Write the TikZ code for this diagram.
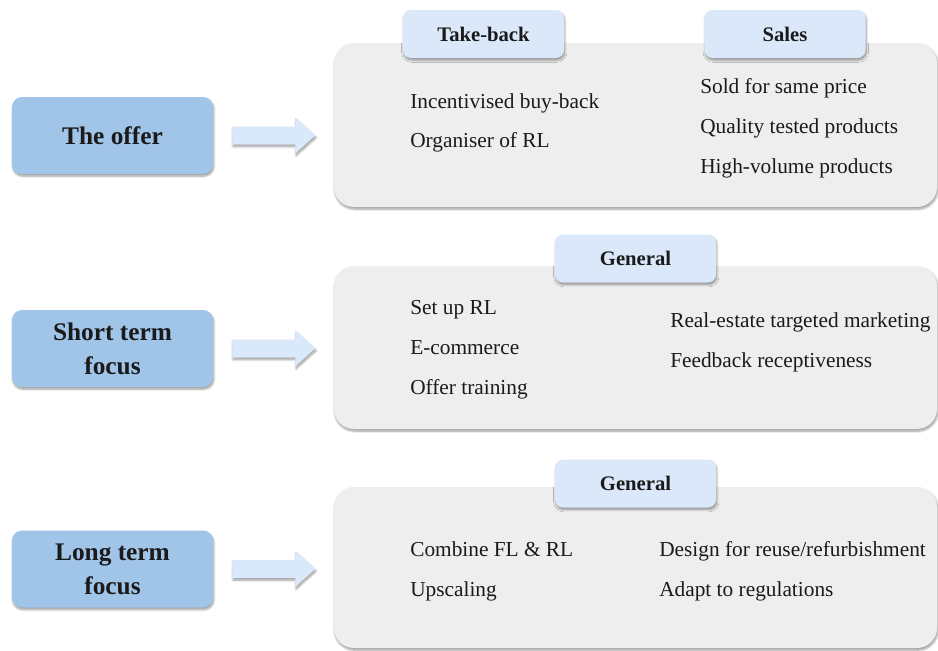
\documentclass[tikz,border=0pt]{standalone}
\usepackage{fontspec}
\setmainfont{Liberation Serif}
\usetikzlibrary{shadows.blur,calc}

\definecolor{leadblue}{RGB}{160,197,232}
\definecolor{tabblue}{RGB}{218,232,250}
\definecolor{arrowblue}{RGB}{218,232,251}
\definecolor{panelgray}{RGB}{238,238,238}
\definecolor{ink}{RGB}{26,26,26}

\begin{document}
\begin{tikzpicture}[x=0.75pt,y=-0.75pt,
  softshadow/.style={blur shadow={shadow xshift=0.6pt,shadow yshift=-1.6pt,
      shadow blur radius=1.6pt,shadow blur steps=8,shadow opacity=40}},
  leadbox/.style={fill=leadblue,rounded corners=7.5pt,softshadow,
      minimum width=150.75pt,minimum height=57.75pt,inner sep=0pt,
      align=center,text=ink,font=\fontsize{19}{25.5}\selectfont\bfseries},
  panel/.style={fill=panelgray,rounded corners=15pt,softshadow,
      minimum width=452.25pt,inner sep=0pt},
  tabbox/.style={fill=tabblue,rounded corners=6pt,softshadow,
      minimum width=120.75pt,minimum height=36pt,inner sep=0pt,
      text=ink,font=\fontsize{15.5}{18}\selectfont\bfseries},
  item/.style={anchor=west,inner sep=0pt,text=ink,
      text height=12.7pt,text depth=2.5pt,font=\fontsize{16}{19}\selectfont},
  blockarrow/.style={fill=arrowblue,softshadow}
]
\useasboundingbox (0,0) rectangle (938,650);

% left-hand stage boxes
\node[leadbox] (offer) at (112.5,135.5) {The offer};
\node[leadbox] (short) at (112.5,348.5) {Short term\\focus};
\node[leadbox] (long)  at (112.5,569)   {Long term\\focus};

% grey content panels
\node[panel,minimum height=123pt]    (p1) at (635.5,125)   {};
\node[panel,minimum height=122.25pt] (p2) at (635.5,347.5) {};
\node[panel,minimum height=120.75pt] (p3) at (635.5,567.5) {};

% block arrows from each stage to its panel
\foreach \s in {offer,short,long}{
  \path[blockarrow]
    ($(\s.east)+(19,-9)$) -- ++(63,0) -- ++(0,-9) -- ++(20,18)
    -- ++(-20,18) -- ++(0,-9) -- ++(-63,0) -- cycle;
}

% tabs
\node[tabbox] (takeback) at (483.5,34)    {Take-back};
\node[tabbox] (sales)    at (785,34)      {Sales};
\node[tabbox] (gen2)     at (635.5,258.5) {General};
\node[tabbox] (gen3)     at (635.5,483.5) {General};

% panel 1: the offer
\node[item] (o1) at (410,102) {Incentivised buy-back};
\node[item] (o2) at (410,141) {Organiser of RL};
\node[item] (o3) at (700,87)  {Sold for same price};
\node[item] (o4) at (700,127) {Quality tested products};
\node[item] (o5) at (700,167) {High-volume products};

% panel 2: short term focus
\node[item] (s1) at (410,308) {Set up RL};
\node[item] (s2) at (410,348) {E-commerce};
\node[item] (s3) at (410,388) {Offer training};
\node[item] (s4) at (670,321) {Real-estate targeted marketing};
\node[item] (s5) at (670,361) {Feedback receptiveness};

% panel 3: long term focus
\node[item] (l1) at (410,550) {Combine FL \& RL};
\node[item] (l2) at (410,590) {Upscaling};
\node[item] (l3) at (659,550) {Design for reuse/refurbishment};
\node[item] (l4) at (659,590) {Adapt to regulations};
\end{tikzpicture}
\end{document}
